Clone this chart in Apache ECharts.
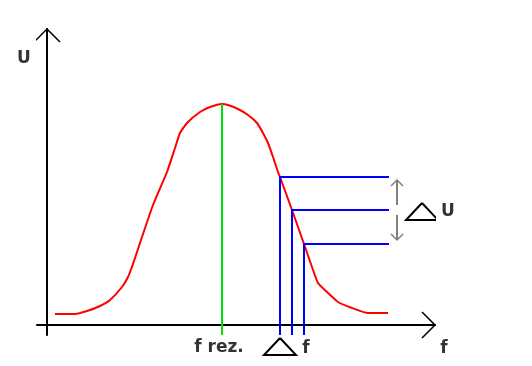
<!DOCTYPE html>
<html><head><meta charset="utf-8">
<script src="https://cdn.jsdelivr.net/npm/echarts@6/dist/echarts.min.js"></script>
<style>html,body{margin:0;padding:0;background:#fff}#c{width:532px;height:366px}</style>
</head><body><div id="c"></div>
<script>
// Resonance curve U(f) in chart units (origin = crossing of the axes)
const curveF = [8,28,40,53,63,75,81,86,94,106,120,128,133,140,153,163,175,181,191,201,210,216,221,226,231,233,245,257,265,271,281,291,305,321,341];
const curveU = [11,11,14,19,25,38,48,61,85,120,153,177,192,202,213,218,221,220,216,210,202,192,182,168,153,148,115,81,58,42,32,23,17,12,12];
// resonance frequency marker
const resonanceF = 175, resonanceU = 221;
// three read-off frequencies and their voltages
const markF = [233, 245, 257];
const markU = [148, 115, 81];
const markEndF = 342;
const dropU = -10;
// delta-U arrows
const arrowF = 350;
const arrowUp = [120, 145];
const arrowDown = [110, 85];
const headSize = 6;
// axis arrowheads
const axisF = [-10, 388];
const axisU = [-10, 296];
const axisHead = 13;
// delta triangles: apex [f,U], half width, height
const deltaApex = [[233, -13], [375, 122]];
const deltaHalf = 16, deltaHeight = 17;
// texts
const labelText = ['U', 'f', 'f rez.', 'f', 'U'];
const labelF = [-23, 397, 172, 259, 401];
const labelU = [266, -24, -23, -24, 113];

const zip = (a, b) => a.map((v, i) => [v, b[i]]);
function poly(data, color, width, z, smooth) {
  return { type: 'line', data, symbol: 'none', clip: false, animation: false, silent: true, z: z || 2,
    smooth: smooth || false,
    lineStyle: { color, width, cap: 'butt', join: 'miter' } };
}
const series = [];
// red curve
series.push(poly(zip(curveF, curveU), '#ff0000', 2, 3, 0.15));
// green resonance line
series.push(poly([[resonanceF, resonanceU], [resonanceF, dropU]], '#00e000', 2, 4));
// blue read-off lines
markF.forEach((f, i) => {
  series.push(poly([[f, dropU], [f, markU[i]], [markEndF, markU[i]]], '#0000ff', 2, 5));
});
// gray arrows
series.push(poly([[arrowF, arrowUp[0]], [arrowF, arrowUp[1]]], '#808080', 2));
series.push(poly([[arrowF - headSize, arrowUp[1] - headSize], [arrowF, arrowUp[1]], [arrowF + headSize, arrowUp[1] - headSize]], '#808080', 1.5));
series.push(poly([[arrowF, arrowDown[0]], [arrowF, arrowDown[1]]], '#808080', 2));
series.push(poly([[arrowF - headSize, arrowDown[1] + headSize], [arrowF, arrowDown[1]], [arrowF + headSize, arrowDown[1] + headSize]], '#808080', 1.5));
// axis arrowheads
series.push(poly([[-axisHead, axisU[1] - axisHead], [0, axisU[1]], [axisHead, axisU[1] - axisHead]], '#000', 1.5));
series.push(poly([[axisF[1] - axisHead, axisHead], [axisF[1], 0], [axisF[1] - axisHead, -axisHead]], '#000', 1.5));
// delta triangles
deltaApex.forEach(([f, u]) => {
  series.push(poly([[f, u], [f + deltaHalf, u - deltaHeight], [f - deltaHalf, u - deltaHeight], [f, u]], '#000', 2));
});
// labels
series.push({ type: 'scatter', symbolSize: 0, clip: false, animation: false, silent: true,
  data: labelText.map((t, i) => ({ value: [labelF[i], labelU[i]], name: t })),
  label: { show: true, position: 'inside', formatter: p => p.name, color: '#000',
    fontFamily: 'DejaVu Sans', fontWeight: 'bold', fontSize: 17 } });

const chart = echarts.init(document.getElementById('c'), null, { renderer: 'canvas' });
chart.setOption({
  backgroundColor: '#fff',
  animation: false,
  grid: { left: 37, right: 97, top: 29, bottom: 31 },
  xAxis: { type: 'value', min: axisF[0], max: axisF[1],
    axisLine: { show: true, onZero: true, lineStyle: { color: '#000', width: 2 } },
    axisTick: { show: false }, axisLabel: { show: false }, splitLine: { show: false } },
  yAxis: { type: 'value', min: axisU[0], max: axisU[1],
    axisLine: { show: true, onZero: true, lineStyle: { color: '#000', width: 2 } },
    axisTick: { show: false }, axisLabel: { show: false }, splitLine: { show: false } },
  series
});
</script></body></html>
